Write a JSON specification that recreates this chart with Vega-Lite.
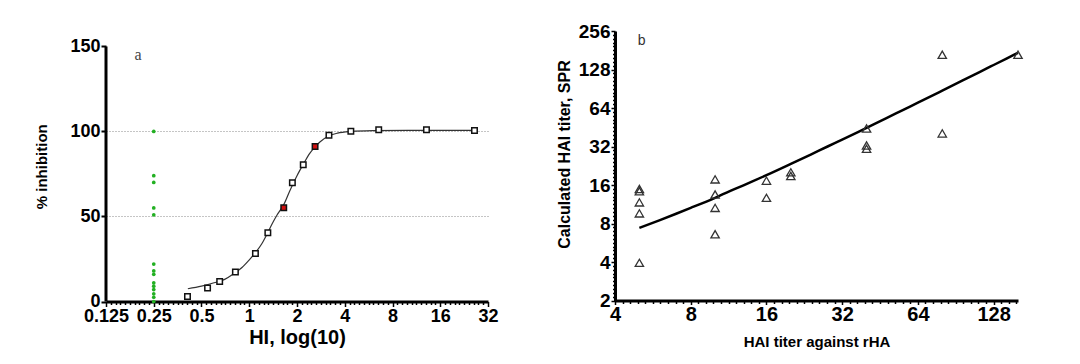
{
  "$schema": "https://vega.github.io/schema/vega-lite/v6.json",
  "padding": {"left": 34, "top": 22, "right": 5, "bottom": 5},
  "background": "white",
  "spacing": 57,
  "config": {"view": {"stroke": null}},
  "datasets": {
    "green": [
      {"x": 0.25, "y": 100}, {"x": 0.25, "y": 74}, {"x": 0.25, "y": 70}, {"x": 0.25, "y": 55},
      {"x": 0.25, "y": 51}, {"x": 0.25, "y": 22}, {"x": 0.25, "y": 18}, {"x": 0.25, "y": 16},
      {"x": 0.25, "y": 11}, {"x": 0.25, "y": 9}, {"x": 0.25, "y": 7}, {"x": 0.25, "y": 4.5},
      {"x": 0.25, "y": 2.5}, {"x": 0.25, "y": 0}
    ],
    "squares": [
      {"x": 0.408, "y": 3, "kind": "normal"}, {"x": 0.546, "y": 8, "kind": "normal"},
      {"x": 0.651, "y": 11.8, "kind": "normal"}, {"x": 0.818, "y": 17.3, "kind": "normal"},
      {"x": 1.094, "y": 28.2, "kind": "normal"}, {"x": 1.31, "y": 40.4, "kind": "normal"},
      {"x": 1.65, "y": 55.1, "kind": "marked"}, {"x": 1.87, "y": 69.8, "kind": "normal"},
      {"x": 2.19, "y": 80.4, "kind": "normal"}, {"x": 2.6, "y": 91.2, "kind": "marked"},
      {"x": 3.18, "y": 97.8, "kind": "normal"}, {"x": 4.37, "y": 100.2, "kind": "normal"},
      {"x": 6.55, "y": 101, "kind": "normal"}, {"x": 13.1, "y": 101, "kind": "normal"},
      {"x": 26.3, "y": 100.6, "kind": "normal"}
    ],
    "curve": [
      {"x": 0.41, "y": 7.5}, {"x": 0.5, "y": 9}, {"x": 0.6, "y": 11}, {"x": 0.7, "y": 13},
      {"x": 0.8, "y": 16.5}, {"x": 0.9, "y": 20}, {"x": 1.0, "y": 24.5}, {"x": 1.1, "y": 29},
      {"x": 1.2, "y": 34}, {"x": 1.3, "y": 40}, {"x": 1.4, "y": 46}, {"x": 1.5, "y": 51},
      {"x": 1.65, "y": 57}, {"x": 1.8, "y": 65}, {"x": 2.0, "y": 74}, {"x": 2.2, "y": 81},
      {"x": 2.4, "y": 87}, {"x": 2.6, "y": 91}, {"x": 2.8, "y": 94}, {"x": 3.2, "y": 97.5},
      {"x": 3.6, "y": 99}, {"x": 4.4, "y": 100}, {"x": 6, "y": 100.5}, {"x": 10, "y": 100.7},
      {"x": 27, "y": 100.7}
    ],
    "tri": [
      {"x": 5, "y": 14.9}, {"x": 5, "y": 14.3}, {"x": 5, "y": 11.7}, {"x": 5, "y": 9.6}, {"x": 5, "y": 3.94},
      {"x": 10, "y": 17.7}, {"x": 10, "y": 13.5}, {"x": 10, "y": 10.6}, {"x": 10, "y": 6.6},
      {"x": 16, "y": 17.3}, {"x": 16, "y": 12.7}, {"x": 20, "y": 20.1}, {"x": 20, "y": 18.8},
      {"x": 40, "y": 44.3}, {"x": 40, "y": 32.6}, {"x": 40, "y": 30.7},
      {"x": 80, "y": 167}, {"x": 80, "y": 40.5}, {"x": 160, "y": 167}
    ],
    "fit": [
      {"x": 5, "y": 7.4}, {"x": 6, "y": 8.47}, {"x": 7, "y": 9.54}, {"x": 8, "y": 10.6},
      {"x": 10, "y": 12.7}, {"x": 12, "y": 14.9}, {"x": 14, "y": 17.0}, {"x": 16, "y": 19.1},
      {"x": 20, "y": 23.4}, {"x": 24, "y": 27.7}, {"x": 28, "y": 32.0}, {"x": 32, "y": 36.2},
      {"x": 40, "y": 44.8}, {"x": 48, "y": 53.3}, {"x": 56, "y": 61.9}, {"x": 64, "y": 70.4},
      {"x": 80, "y": 87.5}, {"x": 96, "y": 104.6}, {"x": 112, "y": 121.7}, {"x": 128, "y": 138.8},
      {"x": 144, "y": 155.9}, {"x": 160, "y": 173}
    ],
    "yaxisline": [{"x": 0.125, "lo": 0, "hi": 150}],
    "labA": [{"x": 0.199, "y": 145, "t": "a"}],
    "labB": [{"x": 5.11, "y": 215, "t": "b"}]
  },
  "hconcat": [
    {
      "width": 382,
      "height": 270.5,
      "layer": [
        {
          "data": {"name": "curve"},
          "mark": {"type": "line", "color": "#333333", "strokeWidth": 1.2, "interpolate": "monotone"},
          "encoding": {
            "x": {
              "field": "x", "type": "quantitative",
              "scale": {"type": "log", "base": 2, "domain": [0.125, 32], "nice": false},
              "axis": {
                "title": "HI, log(10)",
                "titleFont": "Liberation Sans", "titleFontWeight": "bold", "titleFontSize": 20, "titleColor": "black",
                "titlePadding": 2,
                "values": [0.125, 0.134, 0.1436, 0.1539, 0.1649, 0.1768, 0.1895, 0.2031, 0.2176, 0.2333,
                  0.25, 0.268, 0.2872, 0.3078, 0.3299, 0.3536, 0.3789, 0.4061, 0.4353, 0.4665,
                  0.5, 0.5359, 0.5743, 0.6156, 0.6598, 0.7071, 0.7579, 0.8123, 0.8706, 0.933,
                  1, 1.0718, 1.1487, 1.2311, 1.3195, 1.4142, 1.5157, 1.6245, 1.7411, 1.8661,
                  2, 2.1435, 2.2974, 2.4623, 2.639, 2.8284, 3.0314, 3.249, 3.4822, 3.7321,
                  4, 4.287, 4.5948, 4.9246, 5.278, 5.6569, 6.0629, 6.498, 6.9644, 7.4643,
                  8, 8.574, 9.1896, 9.8492, 10.556, 11.314, 12.126, 12.996, 13.929, 14.929,
                  16, 17.148, 18.379, 19.698, 21.112, 22.627, 24.251, 25.992, 27.858, 29.857, 32],
                "labelExpr": "indexof([0.125,0.25,0.5,1,2,4,8,16,32], datum.value) >= 0 ? format(datum.value, '~g') : ''",
                "labelFont": "Liberation Sans", "labelFontWeight": "bold", "labelFontSize": 18, "labelColor": "black",
                "labelOverlap": false, "labelFlush": false, "labelBound": false, "labelPadding": 1,
                "domainColor": "black", "domainWidth": 3,
                "tickColor": "black", "tickWidth": 1.5,
                "tickSize": {"condition": {"test": "indexof([0.125,0.25,0.5,1,2,4,8,16,32], datum.value) >= 0", "value": 5}, "value": 3},
                "grid": false
              }
            },
            "y": {
              "field": "y", "type": "quantitative",
              "scale": {"domain": [0, 159.1], "nice": false},
              "axis": {
                "title": "% inhibition",
                "titleFont": "Liberation Sans", "titleFontWeight": "bold", "titleFontSize": 15, "titleColor": "black",
                "titlePadding": 20,
                "values": [0, 50, 100, 150],
                "labelFont": "Liberation Sans", "labelFontWeight": "bold", "labelFontSize": 18, "labelColor": "black",
                "labelPadding": 1, "labelOverlap": false, "labelFlush": false,
                "domain": false,
                "tickColor": "black", "tickWidth": 2, "tickSize": 5,
                "grid": true, "gridColor": "#8a8a8a", "gridDash": [1, 2], "gridWidth": 1,
                "gridOpacity": {"condition": {"test": "datum.value == 50 || datum.value == 100", "value": 1}, "value": 0}
              }
            }
          }
        },
        {
          "data": {"name": "yaxisline"},
          "mark": {"type": "rule", "color": "black", "strokeWidth": 3},
          "encoding": {
            "x": {"field": "x", "type": "quantitative"},
            "y": {"field": "lo", "type": "quantitative"},
            "y2": {"field": "hi"}
          }
        },
        {
          "data": {"name": "green"},
          "mark": {"type": "point", "shape": "circle", "filled": true, "color": "#22b022", "size": 14, "opacity": 1},
          "encoding": {
            "x": {"field": "x", "type": "quantitative"},
            "y": {"field": "y", "type": "quantitative"}
          }
        },
        {
          "data": {"name": "squares"},
          "mark": {"type": "point", "shape": "square", "filled": true, "stroke": "#111111", "strokeWidth": 1.5, "size": 30, "opacity": 1},
          "encoding": {
            "x": {"field": "x", "type": "quantitative"},
            "y": {"field": "y", "type": "quantitative"},
            "fill": {"field": "kind", "type": "nominal", "scale": {"domain": ["normal", "marked"], "range": ["white", "#d01010"]}, "legend": null}
          }
        },
        {
          "data": {"name": "labA"},
          "mark": {"type": "text", "font": "Liberation Serif", "fontSize": 16, "color": "#444444", "align": "center", "baseline": "middle"},
          "encoding": {
            "x": {"field": "x", "type": "quantitative"},
            "y": {"field": "y", "type": "quantitative"},
            "text": {"field": "t"}
          }
        }
      ]
    },
    {
      "width": 403,
      "height": 269.5,
      "layer": [
        {
          "data": {"name": "fit"},
          "mark": {"type": "line", "color": "black", "strokeWidth": 2.5, "interpolate": "monotone"},
          "encoding": {
            "x": {
              "field": "x", "type": "quantitative",
              "scale": {"type": "log", "base": 2, "domain": [4, 160], "nice": false},
              "axis": {
                "title": "HAI titer against rHA",
                "titleFont": "Liberation Sans", "titleFontWeight": "bold", "titleFontSize": 15, "titleColor": "black",
                "titlePadding": 10,
                "values": [4, 4.287, 4.5948, 4.9246, 5.278, 5.6569, 6.0629, 6.498, 6.9644, 7.4643,
                  8, 8.574, 9.1896, 9.8492, 10.556, 11.314, 12.126, 12.996, 13.929, 14.929,
                  16, 17.148, 18.379, 19.698, 21.112, 22.627, 24.251, 25.992, 27.858, 29.857,
                  32, 34.297, 36.758, 39.397, 42.224, 45.255, 48.503, 51.984, 55.715, 59.714,
                  64, 68.594, 73.517, 78.793, 84.449, 90.51, 97.006, 103.97, 111.43, 119.43,
                  128, 137.19, 147.03, 157.58],
                "labelExpr": "indexof([4,8,16,32,64,128], datum.value) >= 0 ? format(datum.value, '~g') : ''",
                "labelFont": "Liberation Sans", "labelFontWeight": "bold", "labelFontSize": 20, "labelColor": "black",
                "labelOverlap": false, "labelFlush": false, "labelBound": false, "labelPadding": 0,
                "domainColor": "black", "domainWidth": 3,
                "tickColor": "black", "tickWidth": 1.5,
                "tickSize": {"condition": {"test": "indexof([4,8,16,32,64,128], datum.value) >= 0", "value": 4}, "value": 3},
                "grid": false
              }
            },
            "y": {
              "field": "y", "type": "quantitative",
              "scale": {"type": "log", "base": 2, "domain": [2, 256], "nice": false},
              "axis": {
                "title": "Calculated HAI titer, SPR",
                "titleFont": "Liberation Sans", "titleFontWeight": "bold", "titleFontSize": 16, "titleColor": "black",
                "titlePadding": 6, "titleY": 123,
                "values": [2, 2.1435, 2.2974, 2.4623, 2.639, 2.8284, 3.0314, 3.249, 3.4822, 3.7321,
                  4, 4.287, 4.5948, 4.9246, 5.278, 5.6569, 6.0629, 6.498, 6.9644, 7.4643,
                  8, 8.574, 9.1896, 9.8492, 10.556, 11.314, 12.126, 12.996, 13.929, 14.929,
                  16, 17.148, 18.379, 19.698, 21.112, 22.627, 24.251, 25.992, 27.858, 29.857,
                  32, 34.297, 36.758, 39.397, 42.224, 45.255, 48.503, 51.984, 55.715, 59.714,
                  64, 68.594, 73.517, 78.793, 84.449, 90.51, 97.006, 103.97, 111.43, 119.43,
                  128, 137.19, 147.03, 157.58, 168.9, 181.02, 194.01, 207.94, 222.86, 238.86, 256],
                "labelExpr": "indexof([2,4,8,16,32,64,128,256], datum.value) >= 0 ? format(datum.value, '~g') : ''",
                "labelFont": "Liberation Sans", "labelFontWeight": "bold", "labelFontSize": 19, "labelColor": "black",
                "labelOverlap": false, "labelFlush": false, "labelBound": false, "labelPadding": 1,
                "domainColor": "black", "domainWidth": 3,
                "tickColor": "black", "tickWidth": 1.5,
                "tickSize": {"condition": {"test": "indexof([2,4,8,16,32,64,128,256], datum.value) >= 0", "value": 4}, "value": 2.5},
                "grid": false
              }
            }
          }
        },
        {
          "data": {"name": "tri"},
          "mark": {"type": "point", "shape": "triangle-up", "filled": false, "stroke": "#333333", "strokeWidth": 1.3, "size": 70, "opacity": 1},
          "encoding": {
            "x": {"field": "x", "type": "quantitative"},
            "y": {"field": "y", "type": "quantitative"}
          }
        },
        {
          "data": {"name": "labB"},
          "mark": {"type": "text", "font": "Liberation Sans", "fontSize": 14, "color": "#333333", "align": "center", "baseline": "middle"},
          "encoding": {
            "x": {"field": "x", "type": "quantitative"},
            "y": {"field": "y", "type": "quantitative"},
            "text": {"field": "t"}
          }
        }
      ]
    }
  ]
}
